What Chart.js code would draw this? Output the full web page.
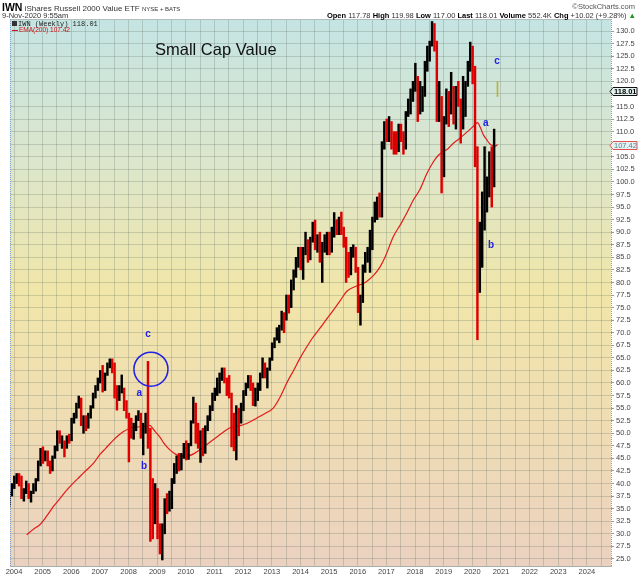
<!DOCTYPE html>
<html>
<head>
<meta charset="utf-8">
<script src="https://cdn.jsdelivr.net/npm/chart.js@4.4.1/dist/chart.umd.min.js"></script>
<style>
  body { margin: 0; background: #fff; }
  #wrap { position: relative; width: 640px; height: 576px; font-family: 'Liberation Sans', Arial, sans-serif; }
  #wrap div { position: absolute; white-space: nowrap; }
  canvas { position: absolute; left: 0; top: 0; }
</style>
</head>
<body>
<div id="wrap">
  <canvas id="myChart" width="640" height="576"></canvas>
  <div style="left:2px; top:2px; font-size:8px; line-height:10px; color:#333;"><b style="font-size:10.5px; color:#000;">IWN</b> iShares Russell 2000 Value ETF <span style="font-size:6px;">NYSE + BATS</span></div>
  <div style="right:5px; top:3px; font-size:7.5px; line-height:8px; color:#555;">&copy;StockCharts.com</div>
  <div style="left:2px; top:11.5px; font-size:7.5px; line-height:7.5px; color:#333;">9-Nov-2020 9:55am</div>
  <div style="right:4px; top:11.5px; font-size:7.5px; line-height:7.5px; color:#333;"><b style="color:#000">Open</b> 117.78 <b style="color:#000">High</b> 119.98 <b style="color:#000">Low</b> 117.00 <b style="color:#000">Last</b> 118.01 <b style="color:#000">Volume</b> 552.4K <b style="color:#000">Chg</b> +10.02 (+9.28%) <span style="color:#1a9a1a">&#9650;</span></div>
  <div style="left:12px; top:20.5px; font-family:'Liberation Mono', monospace; font-size:7px; line-height:7px; color:#222;"><span style="display:inline-block; width:5px; height:5px; background:#333; margin-right:1px;"></span>IWN (Weekly) 118.01</div>
  <div style="left:12px; top:27px; font-size:6.5px; line-height:6.5px; color:#d01010;"><span style="display:inline-block; width:6px; height:1px; background:#d01010; vertical-align:middle; margin-right:1px;"></span>EMA(200) 107.42</div>
  <div style="left:155px; top:41px; font-size:16.5px; line-height:16.5px; color:#111;">Small Cap Value</div>
</div>
<script>
// monthly bars, first bar = Nov 2003
const firstYear = 2003;
const firstMonth = 10; // 0-based, November

const barLows = [
  35.5, 37.5,
  39, 40, 39.5, 37, 36.5, 38, 37, 36.3, 38, 38.5, 40.5, 43.5,         // 2004
  44, 44.5, 43.5, 42, 42.5, 45, 46.5, 48, 47, 45.3, 47, 48,           // 2005
  48.5, 52, 53, 55, 51.5, 50, 50.5, 51, 53, 55, 57, 58.5,             // 2006
  60, 58.2, 58.5, 61.5, 63, 62, 57, 54.6, 56.5, 58, 54.5, 53,         // 2007
  44.3, 49, 48.8, 50.5, 52.5, 49, 45.7, 50, 47, 28.5, 29, 32,         // 2008
  29, 26, 24.8, 30, 34, 34.5, 35, 40, 42, 42.5, 42.7, 45,             // 2009
  44.7, 44.8, 47.5, 52, 48, 47, 44.2, 45.5, 46, 50.5, 52.5, 54.5,     // 2010
  56.5, 57.5, 58, 60.5, 60, 57.5, 57, 47.3, 46.5, 44.7, 49.5, 52,     // 2011
  54.5, 57.5, 59, 58.5, 55.5, 55.4, 56.5, 58.5, 61, 61, 59, 62.5,     // 2012
  64.5, 67, 68.5, 68, 70.5, 70, 72.5, 73.9, 75, 78.5, 81, 83,         // 2013
  82.5, 80.6, 85.5, 84, 84.5, 88, 86.5, 86, 84, 80, 86, 85.5,         // 2014
  85.5, 86, 89, 89.5, 89.5, 89.5, 87, 80, 81, 81.5, 85, 82,           // 2015
  74, 71.5, 76, 82, 84, 82, 86.5, 92, 92.5, 93, 93, 106.5,            // 2016
  108, 108, 106.5, 105.5, 105.5, 106, 108, 105.5, 106.5, 113, 113.5, 116, // 2017
  118, 112, 113.5, 114, 117, 122, 124, 127, 126, 112, 112, 97.8,      // 2018
  101, 111.5, 111, 113.5, 111.5, 110.5, 115, 107.7, 110.5, 113, 119, 122, // 2019
  119.5, 103, 68.6, 78, 83, 90.4, 94, 97, 95, 99                     // 2020
];

const barHighs = [
  38.5, 40,
  41.5, 42, 42, 41.5, 39, 40.5, 40, 38.5, 40, 41, 44.5, 47,
  47.3, 46.5, 46.5, 44.5, 45.5, 47.5, 50.5, 50.5, 49.5, 48.5, 49.5, 49.8,
  53, 54, 56, 57.4, 57, 53.5, 53.5, 54, 55.5, 58, 59.5, 61,
  62.5, 63.5, 62, 64, 64.8, 64.8, 64, 59.5, 59.5, 61.6, 59, 56.5,
  54, 53, 52, 53.5, 54.5, 54, 52, 54, 64.3, 51, 41, 40,
  39, 32, 32, 37, 38, 38.5, 41, 44, 45.5, 46, 46, 48,
  48.5, 48, 52.5, 57.2, 56, 52, 50.5, 51, 51.5, 53.5, 55.5, 58,
  59, 61, 62, 63, 63, 61, 61.5, 58, 54, 55.5, 55, 56,
  58.5, 60, 61.5, 61.5, 60, 59, 60, 62, 65, 64, 63, 65,
  68, 69, 71, 71.5, 74.3, 74, 77.5, 77.5, 80.5, 82.5, 85, 87,
  87, 87, 90, 88.5, 89, 92, 92.4, 89.5, 90, 88, 89.5, 90,
  90, 91, 93.9, 92.5, 93, 94, 91, 89, 86, 87, 87.5, 87,
  83, 77.5, 83.5, 86, 87, 90.4, 93, 96, 97, 97.8, 108, 112,
  112.5, 113, 112, 110, 110, 111.5, 111.5, 110, 114, 116.5, 118.5, 120,
  123.6, 121, 120, 119, 124, 127, 128, 131.9, 131.5, 128, 120, 117,
  113, 118.5, 118, 121.8, 119, 119, 120, 116.5, 121, 120, 124, 127.8,
  127, 123, 107, 92, 98, 107, 101, 106, 107, 110.5
];

const barCloses = [
  38, 39.5,
  40.5, 41.5, 41, 37.5, 38.5, 40, 37.5, 38, 39.5, 40.5, 44, 46.5,
  45, 46, 44, 42.5, 45, 47, 50, 48.5, 48.5, 47, 49, 48.8,
  52.5, 53.5, 55.5, 56.5, 52.5, 53, 51.5, 53.5, 55, 57.5, 59, 60.5,
  62, 61, 61.5, 63.5, 64.5, 63, 58, 57.5, 58.5, 59.5, 56, 54,
  51, 50, 51, 53, 54, 49.5, 50.5, 53.5, 51, 36, 34.5, 37.5,
  31, 27, 30.5, 35.5, 35, 36, 40.5, 43, 44.5, 43, 45, 47,
  45.5, 47.5, 52, 55.5, 50.5, 47.5, 50, 46.5, 51, 53, 54.5, 57.5,
  58, 60.5, 61.5, 62.5, 61, 60, 58, 52, 47, 54, 53.5, 54.5,
  58, 59.5, 61, 59.5, 56, 58.5, 59, 61.5, 63.5, 62, 62.5, 64.5,
  67.5, 68.5, 70.5, 70.5, 73, 72.5, 77, 75, 79.5, 82, 84.5, 86.5,
  83, 86.5, 87.5, 86.5, 88.5, 91.5, 87, 89, 84.5, 87.5, 88, 89.5,
  86.5, 90.5, 91, 90, 91.5, 90.5, 88.5, 84, 81.5, 86, 86.5, 82.5,
  75.5, 76, 83, 85.5, 86.5, 87, 92.5, 94.5, 95, 93.5, 107.5, 111,
  109.5, 110, 108.5, 108, 106, 110.5, 109.5, 107, 113.5, 115, 117.5, 119,
  120.5, 115.5, 116, 117.5, 123.5, 125, 127, 130.5, 127, 115, 116.5, 102,
  112, 117, 113.5, 118.5, 112, 118, 117, 111, 118.5, 119.5, 123.5, 126.5,
  120.5, 104, 83, 90, 95, 96, 99.5, 103, 100, 108
];

// current week (9-Nov-2020)
const lastWeekDate = 2020.86;
const lastWeekLow = 117.00;
const lastWeekHigh = 119.98;
const lastClose = 118.01;

// EMA(200)
const emaDates = [2004.44, 2004.7, 2004.9, 2005.15, 2005.37, 2005.6, 2005.84, 2006.05, 2006.3, 2006.55,
  2006.77, 2007.0, 2007.2, 2007.46, 2007.65, 2007.81, 2008.05, 2008.25, 2008.4, 2008.6,
  2008.74, 2008.85, 2008.98, 2009.1, 2009.21, 2009.44, 2009.68, 2009.9, 2010.1, 2010.3,
  2010.49, 2010.7, 2010.95, 2011.25, 2011.54, 2011.8, 2012.0, 2012.25, 2012.47, 2012.75,
  2013.05, 2013.3, 2013.52, 2013.75, 2013.98, 2014.2, 2014.45, 2014.68, 2014.9, 2015.15,
  2015.4, 2015.61, 2015.8, 2015.96, 2016.15, 2016.31, 2016.55, 2016.78, 2016.95, 2017.24,
  2017.5, 2017.71, 2017.95, 2018.17, 2018.4, 2018.64, 2018.8, 2018.99, 2019.15, 2019.34,
  2019.5, 2019.69, 2019.85, 2020.04, 2020.18, 2020.28, 2020.39, 2020.5, 2020.62, 2020.72,
  2020.8, 2020.88];
const emaValues = [29.8, 31.0, 31.8, 33.6, 35.4, 37.0, 38.7, 40.0, 41.4, 42.8,
  44.0, 45.8, 47.0, 48.6, 49.6, 50.3, 51.0, 51.2, 51.3, 51.4,
  51.6, 50.9, 50.0, 49.2, 48.2, 46.7, 45.7, 45.4, 45.5, 46.0,
  46.7, 47.6, 48.7, 50.0, 51.1, 51.4, 51.7, 52.3, 53.0, 53.9,
  55.0, 57.3, 60.0, 62.4, 64.9, 67.0, 69.2, 70.9, 72.6, 74.5,
  76.5, 78.2, 78.9, 79.3, 79.7, 80.2, 81.4, 83.1, 85.0, 89.1,
  91.6, 93.8, 96.5, 98.5, 101.5, 104.0, 105.2, 106.1, 106.6, 107.7,
  108.4, 109.3, 110.1, 111.1, 111.8, 110.8, 109.3, 108.4, 107.5, 107.2,
  107.1, 107.42];

// hand drawn wave labels: [text, date, price]
const waveLabels = [
  ['c', 2008.675, 69.6], ['a', 2008.37, 58.0], ['b', 2008.54, 43.5],
  ['c', 2020.86, 124.0], ['a', 2020.47, 111.6], ['b', 2020.65, 87.4]
];
const circleAt = [2008.78, 62.75];

const yTickValues = [];
for (let v = 25; v <= 130; v += 2.5) yTickValues.push(v);
const xTickValues = [];
for (let v = 2004; v <= 2024.5; v += 0.5) xTickValues.push(v);

document.addEventListener('DOMContentLoaded', function() {
    const ctx = document.getElementById('myChart').getContext('2d');

    const barData = [];
    const barColors = [];
    barLows.forEach((low, i) => {
        const m = firstMonth + i;
        const x = firstYear + (m + 0.5) / 12;
        barData.push({ x: x, y: [low, barHighs[i]] });
        const prev = i > 0 ? barCloses[i - 1] : barCloses[i];
        barColors.push(barCloses[i] < prev ? '#dd0000' : '#000000');
    });

    const emaData = emaDates.map((d, i) => ({ x: d, y: emaValues[i] }));

    // plot background and frame
    const backdrop = {
        id: 'backdrop',
        beforeDraw(chart) {
            const { ctx, chartArea: a } = chart;
            const g = ctx.createLinearGradient(0, a.top, 0, a.bottom);
            g.addColorStop(0, '#c4e4e3');
            g.addColorStop(0.25, '#dbe6cd');
            g.addColorStop(0.5, '#f1e6a9');
            g.addColorStop(0.75, '#efdcb4');
            g.addColorStop(1, '#ebd1c0');
            ctx.save();
            ctx.fillStyle = g;
            ctx.fillRect(a.left, a.top, a.right - a.left, a.bottom - a.top);
            ctx.restore();
        },
        afterDraw(chart) {
            const { ctx, chartArea: a, scales } = chart;
            ctx.save();
            ctx.strokeStyle = '#b3bcbc';
            ctx.lineWidth = 1;
            ctx.beginPath();
            ctx.moveTo(a.left, a.top + 0.5);
            ctx.lineTo(a.right, a.top + 0.5);
            ctx.stroke();
            ctx.strokeStyle = '#7d9fd4';
            ctx.setLineDash([1, 1]);
            ctx.beginPath();
            ctx.moveTo(a.left + 0.5, a.top);
            ctx.lineTo(a.left + 0.5, a.bottom);
            ctx.moveTo(a.right + 0.5, a.top);
            ctx.lineTo(a.right + 0.5, a.bottom);
            ctx.stroke();
            ctx.setLineDash([]);

            // wave letters and circle
            ctx.fillStyle = '#2020e8';
            ctx.font = 'bold 10px "Liberation Sans", Arial, sans-serif';
            ctx.textAlign = 'center';
            ctx.textBaseline = 'middle';
            waveLabels.forEach(w => {
                ctx.fillText(w[0], scales.x.getPixelForValue(w[1]), scales.y.getPixelForValue(w[2]));
            });
            ctx.strokeStyle = '#2020e8';
            ctx.lineWidth = 1.5;
            ctx.beginPath();
            ctx.arc(scales.x.getPixelForValue(circleAt[0]), scales.y.getPixelForValue(circleAt[1]), 17, 0, Math.PI * 2);
            ctx.stroke();

            // price flags on the right axis
            function flag(value, text, border, color, bold) {
                const y = Math.round(scales.y.getPixelForValue(value)) + 0.5;
                const x0 = a.right - 1, x1 = 637;
                ctx.beginPath();
                ctx.moveTo(x0, y);
                ctx.lineTo(x0 + 3, y - 4);
                ctx.lineTo(x1, y - 4);
                ctx.lineTo(x1, y + 4);
                ctx.lineTo(x0 + 3, y + 4);
                ctx.closePath();
                ctx.fillStyle = '#e4f2f2';
                ctx.fill();
                ctx.strokeStyle = border;
                ctx.lineWidth = 1;
                ctx.stroke();
                ctx.fillStyle = color;
                ctx.font = (bold ? 'bold ' : '') + '7.5px "Liberation Sans", Arial, sans-serif';
                ctx.textAlign = 'left';
                ctx.textBaseline = 'middle';
                ctx.fillText(text, x0 + 4, y + 0.5);
            }
            flag(lastClose, lastClose.toFixed(2), '#111', '#000', true);
            flag(emaValues[emaValues.length - 1], emaValues[emaValues.length - 1].toFixed(2), '#e05050', '#5a8090', false);
            ctx.restore();
        }
    };

    new Chart(ctx, {
        type: 'bar',
        data: {
            datasets: [
                {
                    type: 'line',
                    label: 'EMA(200)',
                    data: emaData,
                    borderColor: '#e31a1a',
                    borderWidth: 1.2,
                    pointRadius: 0,
                    tension: 0.4,
                    cubicInterpolationMode: 'monotone',
                    order: 2
                },
                {
                    label: 'IWN',
                    data: barData,
                    backgroundColor: barColors,
                    barThickness: 1.8,
                    order: 1
                },
                {
                    label: 'IWN this week',
                    data: [{ x: lastWeekDate, y: [lastWeekLow, lastWeekHigh] }],
                    backgroundColor: '#b9b23a',
                    barThickness: 1,
                    order: 1
                }
            ]
        },
        options: {
            responsive: false,
            animation: false,
            layout: { padding: { left: 10, top: 19, right: 0, bottom: 0 } },
            plugins: { legend: { display: false }, tooltip: { enabled: false } },
            scales: {
                x: {
                    type: 'linear',
                    min: 2003.86,
                    max: 2024.84,
                    offset: false,
                    afterBuildTicks: s => { s.ticks = xTickValues.map(v => ({ value: v })); },
                    afterFit: s => { s.height = 10; },
                    ticks: {
                        autoSkip: false,
                        maxRotation: 0,
                        padding: 1,
                        color: '#444',
                        font: { size: 7.5, family: '"Liberation Sans", Arial, sans-serif' },
                        callback: v => (Number.isInteger(v) ? String(v) : '')
                    },
                    grid: { color: 'rgba(105,120,105,0.28)', drawTicks: false, offset: false },
                    border: { color: '#a9b0b0' }
                },
                y: {
                    position: 'right',
                    min: 23.6,
                    max: 132.4,
                    afterBuildTicks: s => { s.ticks = yTickValues.map(v => ({ value: v })); },
                    afterFit: s => { s.width = 29; },
                    ticks: {
                        padding: 2,
                        color: '#444',
                        font: { size: 7.5, family: '"Liberation Sans", Arial, sans-serif' },
                        callback: v => v.toFixed(1)
                    },
                    grid: { color: 'rgba(105,120,105,0.28)', tickLength: 3, tickColor: '#999' },
                    border: { display: false }
                }
            }
        },
        plugins: [backdrop]
    });
});
</script>
</body>
</html>
